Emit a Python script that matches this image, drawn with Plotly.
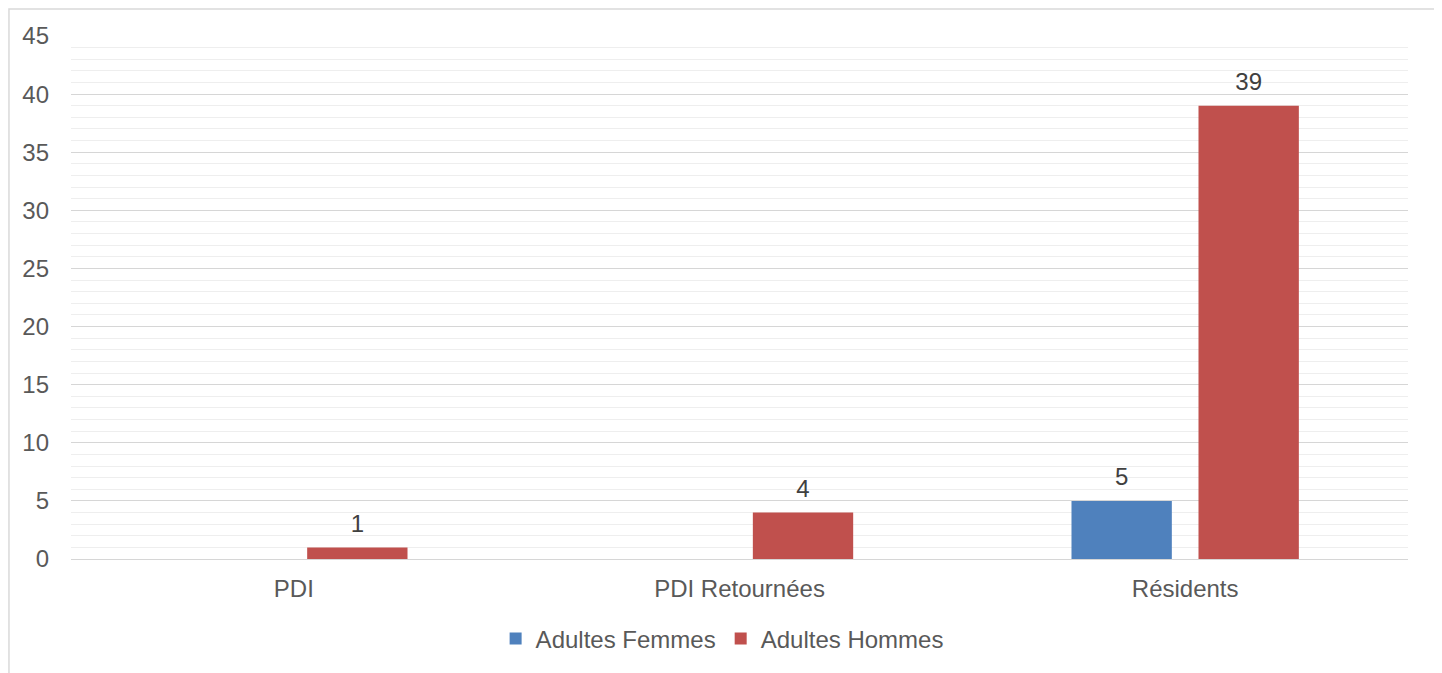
import plotly.graph_objects as go

categories = ["PDI", "PDI Retournées", "Résidents"]
femmes = [None, None, 5]
hommes = [1, 4, 39]
series_names = ["Adultes Femmes", "Adultes Hommes"]
y_ticks = [0, 5, 10, 15, 20, 25, 30, 35, 40, 45]

BLUE = "#4f81bd"
RED = "#c0504d"
FONT = "Liberation Sans, Arial, sans-serif"

def labels(vals):
    return ["" if v is None else str(v) for v in vals]

fig = go.Figure()
for name, vals, col, grp in [(series_names[0], femmes, BLUE, "f"),
                             (series_names[1], hommes, RED, "h")]:
    fig.add_trace(go.Bar(
        name=name, x=categories, y=vals,
        marker=dict(color=col, line=dict(width=0)),
        offsetgroup=grp, alignmentgroup="a",
    ))
for name, vals, grp in [(series_names[0], femmes, "f"),
                        (series_names[1], hommes, "h")]:
    fig.add_trace(go.Scatter(
        x=categories, y=vals, mode="markers+text",
        marker=dict(size=14, opacity=0, color="white"),
        text=labels(vals), textposition="top center",
        textfont=dict(color="#404040", size=24, family=FONT),
        offsetgroup=grp, alignmentgroup="a",
        showlegend=False, hoverinfo="skip", cliponaxis=False,
    ))

fig.update_layout(
    width=1434, height=665,
    margin=dict(l=63, r=34, t=28, b=114),
    paper_bgcolor="white", plot_bgcolor="white",
    font=dict(family=FONT, size=24, color="#595959"),
    barmode="group", bargap=0.43, bargroupgap=0.21,
    scattermode="group", scattergap=0.43,
    showlegend=True,
    legend=dict(orientation="h", x=0.487, xanchor="center",
                y=-0.153, yanchor="middle",
                font=dict(size=24, color="#595959", family=FONT),
                itemwidth=30, traceorder="normal"),
    xaxis=dict(showgrid=False, showline=False, ticks="",
               ticklabelstandoff=13, tickfont=dict(size=24)),
    yaxis=dict(range=[0, 45], tickvals=y_ticks, showline=False, ticks="",
               gridcolor="#d6d6d6", gridwidth=1.3,
               zeroline=True, zerolinecolor="#d6d6d6", zerolinewidth=1.3,
               ticklabelstandoff=21, tickfont=dict(size=24),
               minor=dict(dtick=1, showgrid=True, gridcolor="#eeeeee", gridwidth=1.2)),
    shapes=[dict(type="rect", xref="paper", yref="paper",
                 x0=-0.0464, x1=1.0217, y0=-0.2275, y1=1.0516,
                 line=dict(color="#d9d9d9", width=1.5), layer="below")],
)

fig.write_html("out.html")
